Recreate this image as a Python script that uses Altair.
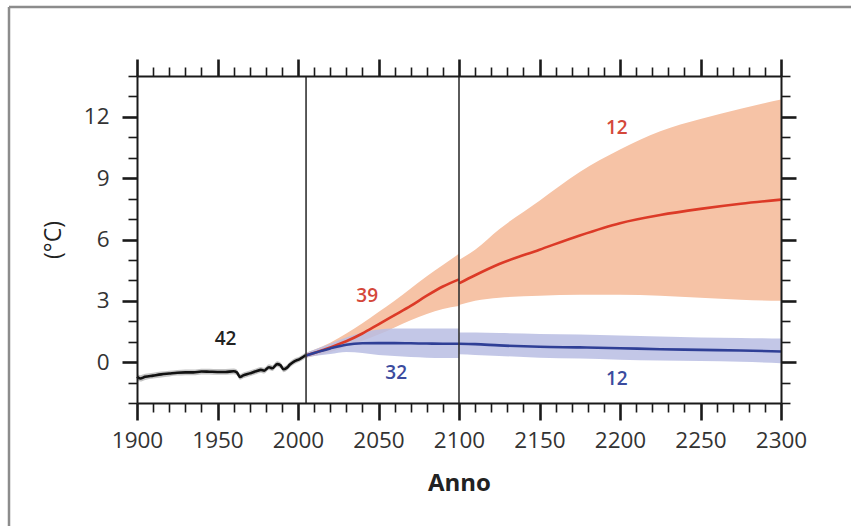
import altair as alt
import pandas as pd

# ---------------- data ----------------
hist_years = [1900, 1902, 1905, 1910, 1915, 1920, 1925, 1930, 1935, 1940,
              1945, 1950, 1955, 1960, 1962, 1964, 1966, 1970, 1974, 1977,
              1979, 1982, 1984, 1987, 1989, 1991, 1993, 1995, 1998, 2001, 2005]
hist_mean = [-0.72, -0.80, -0.72, -0.66, -0.60, -0.56, -0.52, -0.50, -0.50, -0.46,
             -0.47, -0.48, -0.48, -0.45, -0.50, -0.72, -0.65, -0.55, -0.45, -0.38,
             -0.42, -0.25, -0.30, -0.10, -0.15, -0.35, -0.28, -0.12, 0.05, 0.15, 0.35]
hist_low = [-0.88, -0.95, -0.87, -0.80, -0.75, -0.70, -0.66, -0.64, -0.64, -0.60,
            -0.61, -0.62, -0.62, -0.59, -0.64, -0.86, -0.79, -0.69, -0.59, -0.52,
            -0.56, -0.39, -0.44, -0.24, -0.29, -0.49, -0.42, -0.26, -0.09, 0.02, 0.22]
hist_high = [-0.56, -0.64, -0.57, -0.52, -0.46, -0.42, -0.38, -0.36, -0.36, -0.32,
             -0.33, -0.34, -0.34, -0.31, -0.36, -0.58, -0.51, -0.41, -0.31, -0.24,
             -0.28, -0.11, -0.16, 0.04, -0.01, -0.21, -0.14, 0.02, 0.19, 0.28, 0.48]

fut_years = [2005, 2010, 2020, 2030, 2040, 2050, 2060, 2070, 2080, 2090, 2100]
r85_mean_a = [0.33, 0.45, 0.72, 1.02, 1.40, 1.85, 2.30, 2.75, 3.25, 3.70, 4.05]
r85_low_a = [0.22, 0.30, 0.50, 0.75, 1.05, 1.35, 1.70, 2.05, 2.35, 2.60, 2.75]
r85_high_a = [0.45, 0.60, 0.95, 1.40, 1.90, 2.45, 3.00, 3.60, 4.20, 4.75, 5.30]
r26_mean_a = [0.33, 0.45, 0.67, 0.85, 0.92, 0.93, 0.93, 0.92, 0.91, 0.90, 0.90]
r26_low_a = [0.22, 0.30, 0.40, 0.50, 0.45, 0.35, 0.30, 0.25, 0.22, 0.20, 0.20]
r26_high_a = [0.45, 0.60, 0.90, 1.20, 1.45, 1.60, 1.65, 1.65, 1.65, 1.65, 1.65]

ext_years = [2100, 2110, 2125, 2150, 2175, 2200, 2225, 2250, 2275, 2300]
r85_mean_b = [3.85, 4.25, 4.80, 5.50, 6.20, 6.80, 7.20, 7.50, 7.75, 7.95]
r85_low_b = [2.80, 3.00, 3.15, 3.25, 3.30, 3.30, 3.25, 3.15, 3.05, 3.00]
r85_high_b = [5.00, 5.50, 6.50, 7.90, 9.30, 10.40, 11.30, 11.90, 12.40, 12.85]
r26_mean_b = [0.90, 0.88, 0.82, 0.75, 0.72, 0.68, 0.63, 0.60, 0.57, 0.52]
r26_low_b = [0.38, 0.35, 0.30, 0.22, 0.18, 0.12, 0.08, 0.05, 0.02, -0.05]
r26_high_b = [1.45, 1.45, 1.42, 1.38, 1.35, 1.30, 1.25, 1.20, 1.18, 1.15]

vline_years = [2005, 2100]

label_text = ["42", "39", "32", "12", "12"]
label_x = [1955, 2043, 2061, 2198, 2198]
label_y = [1.13, 3.25, -0.54, 11.48, -0.84]
label_series = ["hist", "rcp85", "rcp26", "rcp85", "rcp26"]

x_ticks = list(range(1900, 2301, 10))
y_ticks = list(range(-2, 15))

# ---------------- tables ----------------
parts = [
    ("hist", "h", hist_years, hist_mean, hist_low, hist_high),
    ("rcp85", "a", fut_years, r85_mean_a, r85_low_a, r85_high_a),
    ("rcp85", "b", ext_years, r85_mean_b, r85_low_b, r85_high_b),
    ("rcp26", "a", fut_years, r26_mean_a, r26_low_a, r26_high_a),
    ("rcp26", "b", ext_years, r26_mean_b, r26_low_b, r26_high_b),
]
rows = []
for s, seg, yrs, m, lo, hi in parts:
    for i in range(len(yrs)):
        rows.append({"series": s, "segment": s + seg, "year": yrs[i],
                     "mean": m[i], "low": lo[i], "high": hi[i]})
df = pd.DataFrame(rows)
vdf = pd.DataFrame({"vyear": vline_years})
ldf = pd.DataFrame({"text": label_text, "lx": label_x, "ly": label_y, "series": label_series})
one = pd.DataFrame({"k": [0]})

FONT = "Open Sans"
xs = alt.Scale(domain=[1900, 2300], nice=False, zero=False)
ys = alt.Scale(domain=[-2, 14], nice=False, zero=False)

common = dict(grid=False, zindex=1, domainColor="#1a1a1a", domainWidth=2,
              tickColor="#1a1a1a")

x_bottom = alt.Axis(orient="bottom", values=x_ticks, format="d",
                    labelExpr="datum.value % 50 === 0 ? datum.label : ''",
                    tickSize={"condition": {"test": "datum.value % 50 === 0", "value": 17}, "value": 9},
                    tickWidth={"condition": {"test": "datum.value % 50 === 0", "value": 2.6}, "value": 1.6},
                    labelFont=FONT, labelFontSize=22.5, labelColor="#333333",
                    labelPadding=9, labelOverlap=False, labelFlush=False,
                    title="Anno", titleFont=FONT, titleFontSize=24, titleFontWeight="bold",
                    titleColor="#222222", titlePadding=20, **common)
y_left = alt.Axis(orient="left", values=y_ticks,
                  labelExpr="datum.value % 3 === 0 ? datum.label : ''",
                  tickSize={"condition": {"test": "datum.value % 3 === 0", "value": 15}, "value": 9},
                  tickWidth={"condition": {"test": "datum.value % 3 === 0", "value": 2.6}, "value": 1.6},
                  labelFont=FONT, labelFontSize=22.5, labelColor="#333333",
                  labelPadding=13, labelOverlap=False, labelFlush=False,
                  title="(°C)", titleFont=FONT, titleFontSize=23, titleFontWeight="normal",
                  titleColor="#222222", titlePadding=18, **common)
x_top = alt.Axis(orient="top", values=x_ticks, labels=False, title=None,
                 tickSize={"condition": {"test": "datum.value % 50 === 0", "value": 17}, "value": 9},
                 tickWidth={"condition": {"test": "datum.value % 50 === 0", "value": 2.6}, "value": 1.6},
                 **common)
y_right = alt.Axis(orient="right", values=y_ticks, labels=False, title=None,
                   tickSize={"condition": {"test": "datum.value % 3 === 0", "value": 15}, "value": 9},
                   tickWidth={"condition": {"test": "datum.value % 3 === 0", "value": 2.6}, "value": 1.6},
                   **common)


def band(series, color, opacity, ax=None, ay=None):
    return alt.Chart(df).transform_filter(alt.datum.series == series).mark_area(
        color=color, opacity=opacity, interpolate="monotone"
    ).encode(
        x=alt.X("year:Q", scale=xs, axis=ax),
        y=alt.Y("low:Q", scale=ys, axis=ay),
        y2="high:Q",
        detail="segment:N",
    )


def line(series, color, width, ax=None, ay=None):
    return alt.Chart(df).transform_filter(alt.datum.series == series).mark_line(
        color=color, strokeWidth=width, interpolate="monotone"
    ).encode(
        x=alt.X("year:Q", scale=xs, axis=ax),
        y=alt.Y("mean:Q", scale=ys, axis=ay),
        detail="segment:N",
    )


hist_band = band("hist", "#8a8a8a", 0.5, x_bottom, y_left)
red_band = band("rcp85", "#f6c3a6", 1.0)
blue_band = band("rcp26", "#b9bde3", 0.85)
hist_line = line("hist", "#111111", 2.6, x_top, y_right)
red_line = line("rcp85", "#dc3a27", 2.6)
blue_line = line("rcp26", "#2f3f96", 2.6)

vrules = alt.Chart(vdf).mark_rule(color="#333333", strokeWidth=1.6).encode(
    x=alt.X("vyear:Q", scale=xs, axis=None)
)

texts = alt.Chart(ldf).mark_text(
    font=FONT, fontSize=19, fontWeight=600, align="center", baseline="middle"
).encode(
    x=alt.X("lx:Q", scale=xs, axis=None),
    y=alt.Y("ly:Q", scale=ys, axis=None),
    text="text:N",
    color=alt.Color("series:N", scale=alt.Scale(domain=["hist", "rcp85", "rcp26"],
                                                 range=["#222222", "#d4473a", "#3b4b9e"]),
                    legend=None),
)

frame_top = alt.Chart(one).mark_rule(color="#8c8c8c", strokeWidth=2.5).encode(
    x=alt.value(-128), x2=alt.value(714), y=alt.value(-69)
)
frame_left = alt.Chart(one).mark_rule(color="#8c8c8c", strokeWidth=2.5).encode(
    x=alt.value(-128), y=alt.value(-69), y2=alt.value(450)
)

chart = alt.layer(
    hist_band, red_band, blue_band, hist_line, red_line, blue_line,
    vrules, texts, frame_top, frame_left
).resolve_axis(x="independent", y="independent").resolve_scale(color="independent").properties(
    width=644, height=327,
    autosize=alt.AutoSizeParams(type="none"),
    padding={"left": 137, "top": 76, "right": 70, "bottom": 123},
).configure_view(stroke=None).configure(background="white")

chart.save("out.html", embed_options={"renderer": "svg", "actions": False})
